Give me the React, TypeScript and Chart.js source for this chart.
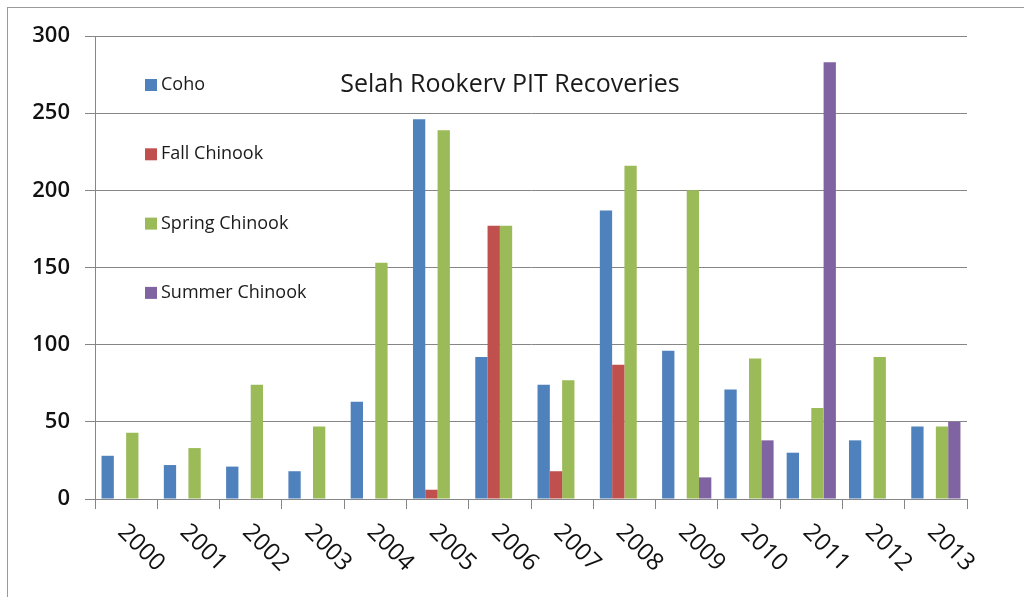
import React, { useEffect, useRef } from "react";
import { Chart, registerables } from "chart.js";

Chart.register(...registerables);

const years = ["2000", "2001", "2002", "2003", "2004", "2005", "2006", "2007", "2008", "2009", "2010", "2011", "2012", "2013"];
const coho = [28, 22, 21, 18, 63, 246, 92, 74, 187, 96, 71, 30, 38, 47];
const fallChinook = [null, null, null, null, null, 6, 177, 18, 87, null, null, null, null, null];
const springChinook = [43, 33, 74, 47, 153, 239, 177, 77, 216, 200, 91, 59, 92, 47];
const summerChinook = [null, null, null, null, null, null, null, null, null, 14, 38, 283, null, 50];

const seriesNames = ["Coho", "Fall Chinook", "Spring Chinook", "Summer Chinook"];
const seriesColors = ["#4F81BD", "#C0504D", "#9BBB59", "#8064A2"];
const titleText = "Selah Rookerv PIT Recoveries";
const yMin = 0;
const yMax = 300;
const yStep = 50;

const FONT = "'Open Sans', 'Liberation Sans', sans-serif";
const GRID = "#868686";

const decorPlugin = {
  id: "decor",
  afterDraw(chart: any) {
    const ctx = chart.ctx;
    const xs = chart.scales.x;
    ctx.save();
    // outer frame
    ctx.strokeStyle = "#9a9a9a";
    ctx.lineWidth = 1;
    ctx.strokeRect(7.5, 7.5, 1040, 1040);

    // rotated x labels
    ctx.fillStyle = "#111";
    ctx.font = `24px ${FONT}`;
    ctx.textAlign = "left";
    ctx.textBaseline = "top";
    chart.data.labels.forEach((lab: string, i: number) => {
      const cx = xs.getPixelForTick(i);
      ctx.save();
      ctx.translate(cx + 4, xs.bottom + 11);
      ctx.rotate(Math.PI / 4);
      ctx.fillText(lab, 0, 0);
      ctx.restore();
    });

    // title
    ctx.font = `25px ${FONT}`;
    ctx.textAlign = "center";
    ctx.textBaseline = "alphabetic";
    ctx.fillStyle = "#1a1a1a";
    ctx.fillText(titleText, 510, 92);

    // legend
    ctx.font = `18px ${FONT}`;
    ctx.textAlign = "left";
    ctx.textBaseline = "middle";
    chart.data.datasets.forEach((ds: any, i: number) => {
      const cy = 85 + i * 69.3;
      ctx.fillStyle = ds.backgroundColor;
      ctx.fillRect(145, cy - 6, 12, 12);
      ctx.fillStyle = "#1a1a1a";
      ctx.fillText(ds.label, 161, cy);
    });
    ctx.restore();
  },
};

export default function App() {
  const ref = useRef<HTMLCanvasElement>(null);

  useEffect(() => {
    if (!ref.current) return;
    const series = [coho, fallChinook, springChinook, summerChinook];
    const chart = new Chart(ref.current, {
      type: "bar",
      data: {
        labels: years,
        datasets: series.map((d, i) => ({
          label: seriesNames[i],
          data: d,
          backgroundColor: seriesColors[i],
          borderWidth: 0,
          categoryPercentage: 0.79,
          barPercentage: 1.0,
        })),
      },
      options: {
        animation: false,
        responsive: false,
        layout: { padding: { top: 36, right: 57, bottom: 88, left: 0 } },
        plugins: {
          legend: { display: false },
          title: { display: false },
          tooltip: { enabled: false },
        },
        scales: {
          x: {
            offset: true,
            afterFit: (s: any) => {
              s.height = 10;
            },
            ticks: { display: false },
            grid: {
              offset: true,
              drawOnChartArea: false,
              drawTicks: true,
              tickLength: 10,
              color: GRID,
            },
            border: { color: GRID, width: 1 },
          },
          y: {
            min: yMin,
            max: yMax,
            afterFit: (s: any) => {
              s.width = 95;
            },
            ticks: {
              stepSize: yStep,
              padding: 15,
              color: "#111",
              font: { family: FONT, size: 22, weight: "600" },
            },
            grid: { color: GRID, tickLength: 10, drawTicks: true },
            border: { color: GRID, width: 1 },
          },
        },
      },
      plugins: [decorPlugin],
    });
    return () => chart.destroy();
  }, []);

  return (
    <div style={{ position: "fixed", left: 0, top: 0, width: 1024, height: 597, background: "#fff" }}>
      <canvas ref={ref} width={1024} height={597} style={{ display: "block" }} />
    </div>
  );
}
